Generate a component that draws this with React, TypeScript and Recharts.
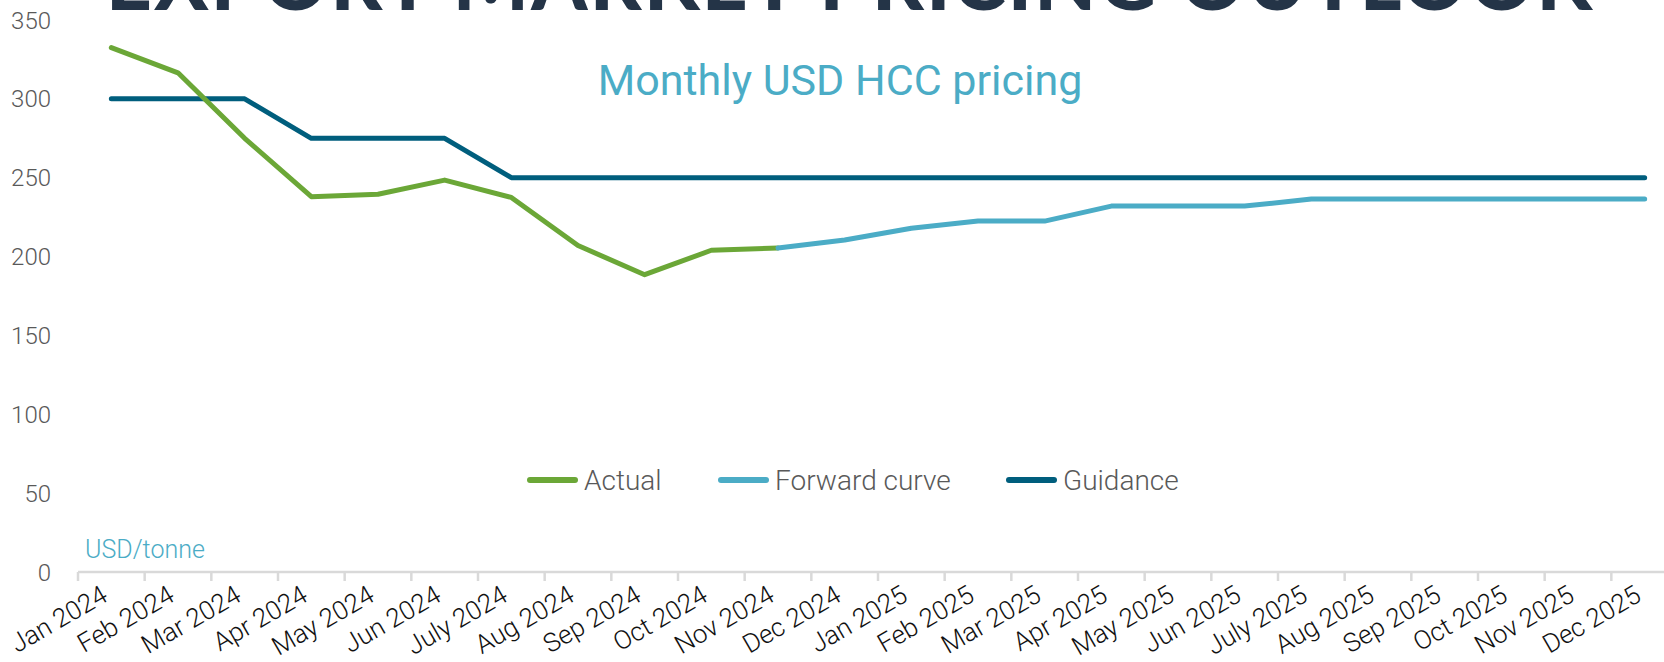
import React from "react";
import { LineChart, Line, XAxis, YAxis } from "recharts";

const months = [
  "Jan 2024", "Feb 2024", "Mar 2024", "Apr 2024", "May 2024", "Jun 2024",
  "July 2024", "Aug 2024", "Sep 2024", "Oct 2024", "Nov 2024", "Dec 2024",
  "Jan 2025", "Feb 2025", "Mar 2025", "Apr 2025", "May 2025", "Jun 2025",
  "July 2025", "Aug 2025", "Sep 2025", "Oct 2025", "Nov 2025", "Dec 2025",
];

const actual = [
  332.5, 316.5, 275, 238, 239.5, 248.5, 237.5, 207, 188.5, 204, 205.5,
  null, null, null, null, null, null, null, null, null, null, null, null, null,
];

const forwardCurve = [
  null, null, null, null, null, null, null, null, null, null,
  205.5, 210.5, 218, 222.5, 222.5, 232, 232, 232, 236.5, 236.5, 236.5, 236.5, 236.5, 236.5,
];

const guidance = [
  300, 300, 300, 275, 275, 275, 250, 250, 250, 250, 250, 250,
  250, 250, 250, 250, 250, 250, 250, 250, 250, 250, 250, 250,
];

const yTicks = [0, 50, 100, 150, 200, 250, 300, 350];

const GREEN = "#6BA737";
const LIGHT_BLUE = "#4BACC6";
const DARK_TEAL = "#005E7D";

const data = months.map((month, i) => ({
  month,
  actual: actual[i],
  forward: forwardCurve[i],
  guidance: guidance[i],
}));

// legend order as in the original deck
const legendItems = [
  { name: "Actual", color: GREEN, x: 527 },
  { name: "Forward curve", color: LIGHT_BLUE, x: 718 },
  { name: "Guidance", color: DARK_TEAL, x: 1006 },
];

const CHART_W = 1700;
const PLOT_LEFT = 78;
const PLOT_RIGHT = 1678;
const BAND = (PLOT_RIGHT - PLOT_LEFT) / months.length;

const MonthTick = ({ x, y, payload }: any) => {
  const tx = x - 2;
  const ty = y + 28;
  return (
    <g>
      <line
        x1={x - BAND / 2}
        x2={x - BAND / 2}
        y1={y}
        y2={y + 9}
        stroke="#d9d9d9"
        strokeWidth={2.5}
      />
      <text
        x={tx}
        y={ty}
        textAnchor="end"
        transform={`rotate(-30, ${tx}, ${ty})`}
        fill="#111"
        fontSize={26}
        fontFamily="Roboto"
        fontWeight={300}
      >
        {payload.value}
      </text>
    </g>
  );
};

export default function App() {
  return (
    <div
      style={{
        position: "absolute",
        left: 0,
        top: 0,
        width: 1664,
        height: 662,
        overflow: "hidden",
        background: "#fff",
      }}
    >
      <LineChart
        width={CHART_W}
        height={662}
        data={data}
        margin={{ top: 20, right: CHART_W - PLOT_RIGHT, bottom: 0, left: 0 }}
      >
        <XAxis
          dataKey="month"
          interval={0}
          height={90}
          padding={{ left: BAND / 2, right: BAND / 2 }}
          tickLine={false}
          tickSize={0}
          tickMargin={0}
          axisLine={{ stroke: "#d9d9d9", strokeWidth: 2.5 }}
          tick={<MonthTick />}
        />
        <YAxis
          width={PLOT_LEFT}
          domain={[0, 350]}
          ticks={yTicks}
          interval={0}
          axisLine={false}
          tickLine={false}
          tickSize={0}
          tickMargin={27}
          tick={{ fill: "#595959", fontSize: 24, fontFamily: "Roboto", fontWeight: 300 }}
        />
        <Line
          dataKey="guidance"
          name="Guidance"
          stroke={DARK_TEAL}
          strokeWidth={5}
          strokeLinecap="round"
          strokeLinejoin="round"
          dot={false}
          activeDot={false}
          isAnimationActive={false}
        />
        <Line
          dataKey="actual"
          name="Actual"
          stroke={GREEN}
          strokeWidth={5}
          strokeLinecap="round"
          strokeLinejoin="round"
          dot={false}
          activeDot={false}
          isAnimationActive={false}
        />
        <Line
          dataKey="forward"
          name="Forward curve"
          stroke={LIGHT_BLUE}
          strokeWidth={5}
          strokeLinecap="round"
          strokeLinejoin="round"
          dot={false}
          activeDot={false}
          isAnimationActive={false}
        />
      </LineChart>

      {/* titles and legend drawn over the chart */}
      <svg
        width={1664}
        height={662}
        style={{ position: "absolute", left: 0, top: 0, pointerEvents: "none" }}
      >
        <text
          x={849}
          y={10}
          textAnchor="middle"
          textLength={1486}
          lengthAdjust="spacing"
          fill="#243447"
          fontSize={80}
          fontFamily="Lato"
          fontWeight={900}
        >
          EXPORT MARKET PRICING OUTLOOK
        </text>
        <text
          x={840}
          y={95}
          textAnchor="middle"
          fill={LIGHT_BLUE}
          fontSize={43}
          fontFamily="Roboto"
        >
          Monthly USD HCC pricing
        </text>
        <text x={85} y={558} fill={LIGHT_BLUE} fontSize={25} fontFamily="Roboto" fontWeight={300}>
          USD/tonne
        </text>
        {legendItems.map((item) => (
          <g key={item.name}>
            <line
              x1={item.x + 3}
              x2={item.x + 48}
              y1={480}
              y2={480}
              stroke={item.color}
              strokeWidth={6}
              strokeLinecap="round"
            />
            <text
              x={item.x + 57}
              y={490}
              fill="#595959"
              fontSize={28}
              fontFamily="Roboto"
              fontWeight={300}
            >
              {item.name}
            </text>
          </g>
        ))}
      </svg>
    </div>
  );
}
